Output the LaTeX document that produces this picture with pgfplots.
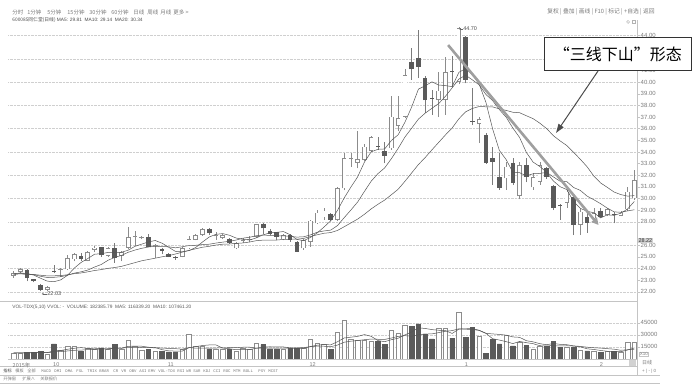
\documentclass[border=0pt]{standalone}
\usepackage{fontspec}
\setmainfont{Liberation Sans}
\setmonofont{Liberation Mono}
\newfontfamily\cjk{Noto Sans CJK SC}
\usepackage{pgfplots}
\usepackage{pgfplotstable}
\pgfplotsset{compat=1.18}
\usetikzlibrary{arrows.meta}
\definecolor{edge}{HTML}{8C8C8C}
\definecolor{dark}{HTML}{5A5A5A}
\definecolor{maline}{HTML}{555555}
\definecolor{txt}{HTML}{7A7A7A}
\definecolor{gridc}{HTML}{CFCFCF}
\definecolor{sep}{HTML}{C4C4C4}
\newcommand{\fs}[1]{\fontsize{#1}{#1}\selectfont}

\pgfplotstableread{
i O H L C V
0 23.36 23.77 23.20 23.62 7500
1 23.70 24.00 23.65 23.96 7500
5 22.15 22.45 22.10 22.38 5400
7 23.90 24.00 23.30 23.96 10400
8 23.93 25.16 23.85 24.87 15800
9 24.79 25.30 24.60 25.24 15800
11 24.67 25.50 24.60 25.39 13800
12 25.60 25.90 25.40 25.79 11700
14 25.07 25.80 25.00 25.73 11700
16 25.07 25.50 24.60 25.42 11700
17 25.79 27.59 25.70 26.68 22900
18 26.70 27.20 25.90 26.75 15800
19 26.62 26.80 26.50 26.68 10800
21 25.96 26.10 24.90 26.02 9600
25 25.00 25.80 24.95 25.73 11700
26 25.73 26.79 25.70 26.53 31300
27 26.45 26.95 26.40 26.87 15800
28 26.87 27.50 26.80 27.36 15800
30 26.75 27.10 26.45 26.85 11700
31 26.60 26.95 26.50 26.87 11700
33 25.73 26.30 25.65 26.16 9600
34 26.35 26.60 26.20 26.45 13800
35 26.50 26.80 26.30 26.55 11700
36 26.73 27.85 26.60 27.82 20000
40 26.50 26.95 26.40 26.87 11700
43 25.73 26.50 25.60 26.45 13800
44 26.30 28.20 25.88 28.10 24200
45 27.88 29.02 27.80 28.79 20000
46 28.39 29.20 28.20 28.96 18000
48 28.16 30.95 28.10 30.88 33000
49 30.88 33.94 30.70 33.46 48000
50 33.40 33.94 32.74 33.50 25000
51 33.08 35.80 32.60 33.37 22900
52 33.31 34.70 33.20 34.45 22900
53 34.11 35.40 34.00 35.26 22100
56 34.32 38.80 34.20 37.03 35400
57 36.23 38.80 35.80 36.89 32100
58 37.03 41.10 36.90 40.61 42500
63 38.46 40.90 37.00 39.26 38400
64 38.46 42.18 37.20 40.84 38400
66 40.03 44.70 39.80 44.62 58400
69 36.40 37.00 34.75 36.80 28400
73 31.74 33.17 30.74 32.74 29200
75 30.22 33.17 29.94 32.88 20400
77 30.97 32.20 30.74 31.83 12500
78 31.45 33.17 31.20 32.88 16300
82 29.65 30.80 29.20 30.59 14200
84 27.74 29.08 26.87 28.88 10400
86 28.31 29.20 28.00 28.74 10000
88 28.60 29.20 28.50 29.08 9200
90 28.54 28.90 28.50 28.79 8300
91 29.08 31.00 28.90 30.59 20900
92 30.03 32.45 29.88 31.60 20900
}\upt

\pgfplotstableread{
i O H L C V
2 23.87 23.95 22.88 23.17 8300
3 23.06 23.10 22.80 22.91 8300
4 22.60 22.65 22.03 22.15 9600
6 23.78 24.30 23.60 23.70 18800
10 25.07 25.30 24.65 24.79 9600
13 25.82 25.85 24.99 25.13 13800
15 25.79 26.20 24.50 24.90 17900
20 26.68 27.00 25.80 25.88 11700
22 25.70 25.75 25.20 25.53 9600
23 25.24 25.30 24.95 25.01 8800
24 25.00 25.10 24.73 24.87 8800
29 27.36 27.45 26.90 27.02 12500
32 26.50 26.60 26.10 26.16 11700
37 27.82 27.90 27.00 27.45 17900
38 27.25 27.35 26.90 26.96 12500
39 27.10 27.15 26.40 26.73 12500
41 26.87 26.95 26.30 26.45 13800
42 26.30 26.35 25.40 25.44 13800
47 28.68 28.80 28.10 28.16 11700
54 34.55 35.26 34.20 34.45 21700
55 34.09 34.88 33.03 33.66 17900
59 41.75 42.90 40.18 41.10 40400
60 42.09 44.47 40.33 41.32 43800
61 40.38 40.50 37.37 38.46 31300
62 38.65 39.30 37.20 38.55 25000
65 40.95 42.24 39.60 40.85 25900
67 43.85 44.00 39.90 40.18 27100
68 36.70 39.47 36.30 36.62 39200
70 35.46 35.60 33.00 33.08 7100
71 33.46 34.45 31.17 33.17 24200
72 31.88 33.90 30.74 30.94 18800
74 33.03 33.46 31.20 31.37 16300
76 32.88 33.46 31.40 31.83 16700
79 32.60 32.74 31.70 31.83 15400
80 31.11 31.20 29.00 29.17 22100
81 29.42 29.50 28.16 29.35 14200
83 30.17 30.30 26.87 27.74 14200
85 28.39 28.88 27.07 27.93 10000
87 28.96 29.20 28.30 28.39 7900
89 28.70 28.88 27.88 28.64 9200
}\dnt

\pgfplotstableread{
i MAa MAb MAc VMAa VMAb
0 23.52 23.51 23.51 7500 7500
1 23.62 23.56 23.53 7500 7500
2 23.55 23.53 23.51 7660 7580
3 23.43 23.47 23.48 7820 7660
4 23.16 23.33 23.42 8240 7870
5 22.91 23.22 23.36 7820 7660
6 22.86 23.24 23.37 10080 8790
7 23.02 23.29 23.39 10500 9080
8 23.41 23.42 23.46 12000 9910
9 24.03 23.60 23.55 13240 10740
10 24.51 23.71 23.61 14080 10950
11 24.85 23.86 23.71 13080 11580
12 25.22 24.12 23.82 13340 11920
13 25.27 24.34 23.90 12940 12470
14 25.37 24.70 24.01 12120 12680
15 25.39 24.95 24.08 13780 13930
16 25.39 25.12 24.18 13360 13220
17 25.57 25.39 24.34 15600 14470
18 25.90 25.58 24.50 16000 14470
19 26.09 25.73 24.66 15820 13970
20 26.28 25.84 24.77 14580 14180
21 26.40 25.90 24.88 14160 13760
22 26.17 25.87 25.00 11500 13550
23 25.82 25.86 25.10 10100 13050
24 25.46 25.77 25.24 9700 12760
25 25.43 25.86 25.40 9700 12140
26 25.53 25.97 25.55 14040 14100
27 25.80 25.99 25.69 15280 13390
28 26.27 26.05 25.82 16680 13390
29 26.70 26.08 25.90 17420 13560
30 26.93 26.18 26.01 17420 13560
31 26.99 26.26 26.08 13500 13770
32 26.85 26.33 26.10 12680 13980
33 26.61 26.44 26.15 11440 14060
34 26.50 26.60 26.19 11700 14560
35 26.44 26.68 26.27 11700 14560
36 26.63 26.81 26.39 13360 13430
37 26.89 26.87 26.43 14600 13640
38 27.05 26.83 26.44 15180 13310
39 27.10 26.80 26.44 14920 13310
40 27.17 26.80 26.49 14920 13310
41 26.89 26.76 26.51 13680 13520
42 26.49 26.69 26.51 12860 13730
43 26.39 26.72 26.58 13120 14150
44 26.66 26.88 26.74 15460 15190
45 27.05 27.11 26.89 17120 16020
46 27.55 27.22 27.02 17960 15820
47 28.09 27.29 27.08 17540 15200
48 28.98 27.68 27.26 21380 17250
49 30.05 28.36 27.58 26140 20800
50 30.99 29.02 27.91 27140 22130
51 31.87 29.71 28.24 28120 23040
52 33.13 30.61 28.65 30360 23950
53 34.01 31.49 29.11 28180 24780
54 34.23 32.14 29.51 22920 24530
55 34.26 32.63 29.87 21500 24320
56 34.99 33.43 30.33 24000 26060
57 35.48 34.31 30.80 25840 28100
58 36.55 35.28 31.48 29920 29050
59 37.86 36.04 32.20 33660 28290
60 39.39 36.82 32.92 38840 30170
61 39.68 37.33 33.52 38020 31010
62 40.02 37.75 34.18 36600 31220
63 39.75 38.15 34.82 35780 32850
64 39.70 38.78 35.46 35380 34520
65 39.61 39.50 36.06 31800 35320
66 40.84 40.26 36.85 37220 37620
67 41.16 40.59 37.45 37640 37120
68 40.64 40.19 37.74 37800 36790
69 39.83 39.76 37.90 35800 35590
70 38.27 38.94 37.88 32040 31920
71 35.98 38.41 37.87 25200 31210
72 34.13 37.64 37.70 23540 30590
73 33.35 36.99 37.57 21540 29670
74 32.26 36.05 37.41 19120 27460
75 32.22 35.24 37.37 21780 26910
76 31.95 33.96 37.11 20280 22740
77 32.13 33.13 36.86 19020 21280
78 32.16 32.75 36.47 16440 18990
79 32.25 32.26 36.01 16260 17690
80 31.51 31.86 35.40 16600 19190
81 31.02 31.49 34.95 16100 18190
82 30.77 31.45 34.55 16440 17730
83 29.75 30.95 33.97 16020 16230
84 29.16 30.70 33.37 15020 15640
85 28.91 30.21 32.73 12600 14600
86 28.78 29.90 31.93 11760 13930
87 28.34 29.56 31.34 10500 13470
88 28.60 29.18 30.96 9500 12760
89 28.56 28.86 30.56 9260 12140
90 28.74 28.82 30.34 8920 10760
91 29.11 28.94 30.21 11100 11430
92 29.75 29.04 30.25 13700 12100
}\matab

\begin{document}
\begin{tikzpicture}[x=1pt,y=1pt]
\path (0,0) rectangle (695,386);

% panel separators
\draw[sep, line width=0.5pt] (0,85) -- (637,85);
\draw[sep, line width=0.5pt] (0,19.3) -- (637,19.3);
\draw[sep, line width=0.5pt] (0,11) -- (660,11);
\draw[sep, line width=0.5pt] (0,3) -- (660,3);
\draw[sep, line width=0.5pt] (637,11) -- (637,366);

% ---------------- price panel ----------------
\begin{axis}[
  at={(8pt,86pt)}, anchor=south west, scale only axis,
  width=629pt, height=278pt,
  xmin=-0.785, xmax=92.4, ymin=21.30, ymax=45.16,
  axis x line=none, axis y line*=right,
  axis line style={draw=sep, line width=0.5pt},
  ytick={22,23,24,25,26,28,29,30,31,32,33,34,35,36,37,38,39,40,41,44},
  /pgf/number format/assume math mode=true,
  yticklabel={\pgfmathprintnumber[fixed,fixed zerofill,precision=2]{\tick}},
  yticklabel style={font=\fs{6}, text=txt, inner sep=1pt},
  tick align=outside, major tick length=2.5pt,
  every tick/.style={draw=sep, line width=0.4pt},
  extra y ticks={22,24,...,44},
  extra y tick labels={},
  extra y tick style={yticklabel={}, grid=major, major grid style={draw=gridc, densely dotted, line width=0.4pt}, major tick length=0pt},
]
% wicks
\addplot[draw=none, mark=none, error bars/.cd, y dir=plus, y explicit, error mark=none,
  error bar style={line width=0.6pt, draw=edge}]
  table[x=i, y=L, y error expr=\thisrow{H}-\thisrow{L}] {\upt};
\addplot[draw=none, mark=none, error bars/.cd, y dir=plus, y explicit, error mark=none,
  error bar style={line width=0.6pt, draw=dark!80}]
  table[x=i, y=L, y error expr=\thisrow{H}-\thisrow{L}] {\dnt};
% up bodies (hollow)
\addplot[draw=none, mark=none, error bars/.cd, y dir=plus, y explicit, error mark=none,
  error bar style={line width=4.6pt, line cap=butt, draw=edge}]
  table[x=i, y=O, y error expr={max(\thisrow{C}-\thisrow{O},0.07)}] {\upt};
\addplot[draw=none, mark=none, error bars/.cd, y dir=plus, y explicit, error mark=none,
  error bar style={line width=3.2pt, line cap=butt, draw=white}]
  table[x=i, y expr=\thisrow{O}+0.06, y error expr={max(\thisrow{C}-\thisrow{O}-0.12,0)}] {\upt};
% down bodies (filled)
\addplot[draw=none, mark=none, error bars/.cd, y dir=plus, y explicit, error mark=none,
  error bar style={line width=4.6pt, line cap=butt, draw=dark}]
  table[x=i, y=C, y error expr={max(\thisrow{O}-\thisrow{C},0.07)}] {\dnt};
% moving averages
\addplot[maline, line width=0.5pt, mark=none] table[x=i, y=MAa] {\matab};
\addplot[maline, line width=0.5pt, mark=none] table[x=i, y=MAb] {\matab};
\addplot[maline, line width=0.5pt, mark=none] table[x=i, y=MAc] {\matab};
% drawn trend line
\addplot[line width=2.6pt, draw=gray!75, mark=none, -{Triangle[length=7pt,width=7pt]}] coordinates {(64.4,43.18) (86.7,27.73)};
\end{axis}

% ---------------- volume panel ----------------
\begin{axis}[
  at={(8pt,27pt)}, anchor=south west, scale only axis,
  width=629pt, height=48pt,
  xmin=-0.785, xmax=92.4, ymin=0, ymax=60000,
  axis x line*=bottom, axis y line*=right,
  axis line style={draw=sep, line width=0.5pt},
  scaled y ticks=false,
  ytick={15000,30000,45000},
  /pgf/number format/assume math mode=true,
  yticklabel={\pgfmathprintnumber[fixed,precision=0,1000 sep={}]{\tick}},
  yticklabel style={font=\fs{6}, text=txt, inner sep=1pt},
  ymajorgrids, major grid style={draw=gridc, densely dotted, line width=0.4pt},
  tick align=outside, major tick length=2.5pt,
  every tick/.style={draw=sep, line width=0.4pt},
  xtick={0,6,23,44,67,87},
  xticklabels={{\cjk 2015年},10,11,12,1,2},
  xticklabel style={font=\fs{5.5}, text=txt, anchor=north west, inner sep=0.5pt, xshift=-1.5pt, yshift=-0.5pt},
  xtick style={draw=none},
]
\addplot[ybar, bar width=4.6pt, bar shift=0pt, fill=white, draw=edge, line width=0.6pt] table[x=i, y=V] {\upt};
\addplot[ybar, bar width=4.6pt, bar shift=0pt, fill=dark, draw=dark, line width=0.6pt] table[x=i, y=V] {\dnt};
\addplot[maline, line width=0.5pt, mark=none] table[x=i, y=VMAa] {\matab};
\addplot[maline, line width=0.5pt, mark=none] table[x=i, y=VMAb] {\matab};
\end{axis}

% ---------------- texts ----------------
\begin{scope}[every node/.style={anchor=west, inner sep=0, text=txt}]
\node[font=\cjk\fs{5.5}] at (12,374) {分时};
\node[font=\cjk\fs{5.5}] at (27,374) {1分钟};
\node[font=\cjk\fs{5.5}] at (47,374) {5分钟};
\node[font=\cjk\fs{5.5}] at (67,374) {15分钟};
\node[font=\cjk\fs{5.5}] at (89,374) {30分钟};
\node[font=\cjk\fs{5.5}] at (111,374) {60分钟};
\node[font=\cjk\fs{5.5}] at (133,374) {日线};
\node[font=\cjk\fs{5.5}] at (147,374) {周线};
\node[font=\cjk\fs{5.5}] at (160,374) {月线};
\node[font=\cjk\fs{5.5}] at (173,374) {更多 >};
\node[font=\fs{4.8}, text=black!70] at (12,366) {{\cjk 600085同仁堂(日线)} MA5: 29.81\ \ MA10: 29.14\ \ MA20: 30.34};
\node[font=\cjk\fs{5.8}] at (547,374) {复权 | 叠加 | 画线 | F10 | 标记 | +自选 | 返回};
\node[font=\fs{4.8}, text=black!65] at (12,79) {VOL-TDX(5,10) VVOL: -\ \ VOLUME: 182385.79\ \ MA5: 116339.20\ \ MA10: 107461.20};
% tabs
\node[font=\cjk\fs{4.2}, text=black!75] at (3,15) {指标};
\node[font=\cjk\fs{4.2}] at (15,15) {模板};
\node[font=\cjk\fs{4.2}] at (27,15) {全部};
\node[font=\ttfamily\fs{4}] at (41,15) {MACD};
\node[font=\ttfamily\fs{4}] at (54,15) {DMI};
\node[font=\ttfamily\fs{4}] at (65,15) {DMA};
\node[font=\ttfamily\fs{4}] at (76,15) {FSL};
\node[font=\ttfamily\fs{4}] at (87,15) {TRIX};
\node[font=\ttfamily\fs{4}] at (99,15) {BRAR};
\node[font=\ttfamily\fs{4}] at (113,15) {CR};
\node[font=\ttfamily\fs{4}] at (121,15) {VR};
\node[font=\ttfamily\fs{4}] at (129,15) {OBV};
\node[font=\ttfamily\fs{4}] at (139,15) {ASI};
\node[font=\ttfamily\fs{4}] at (148,15) {EMV};
\node[font=\ttfamily\fs{4}] at (158,15) {VOL-TDX};
\node[font=\ttfamily\fs{4}] at (177,15) {RSI};
\node[font=\ttfamily\fs{4}] at (186,15) {WR};
\node[font=\ttfamily\fs{4}] at (193,15) {SAR};
\node[font=\ttfamily\fs{4}] at (203,15) {KDJ};
\node[font=\ttfamily\fs{4}] at (213,15) {CCI};
\node[font=\ttfamily\fs{4}] at (223,15) {ROC};
\node[font=\ttfamily\fs{4}] at (233,15) {MTM};
\node[font=\ttfamily\fs{4}] at (243,15) {BOLL};
\node[font=\ttfamily\fs{4}] at (258,15) {PSY};
\node[font=\ttfamily\fs{4}] at (268,15) {MCST};
\node[font=\cjk\fs{4.2}] at (3,7) {开弹窗};
\node[font=\cjk\fs{4.2}] at (22,7) {扩展∧};
\node[font=\cjk\fs{4.2}] at (40,7) {关联报价};
% right side bits
\node[font=\cjk\fs{5}] at (642,22.8) {日线};
\node[font=\fs{4.5}] at (642,15) {+ | - | 0};
\node[font=\fs{4.5}, draw=sep, inner sep=0.6pt] at (639,31.5) {X10};
% extreme labels
\node[font=\fs{5.5}, text=black!70] at (463,357) {44.70};
\node[font=\fs{5.5}, text=black!70] at (47,92) {22.03};
\end{scope}
\draw[black!60, line width=0.4pt, -{Stealth[length=2pt,width=2pt]}] (462.5,357) -- (459,357);
\draw[black!60, line width=0.4pt, -{Stealth[length=2pt,width=2pt]}] (46.5,92) -- (41.5,92);
% current value tag
\node[fill=gray!35, inner sep=0.8pt, anchor=west, font=\fs{5.5}, text=black!80] at (637.5,145.5) {28.22};
% small icons
\draw[gray!60, line width=0.4pt] (628,364) circle (1.5);
\draw[gray!60, line width=0.4pt] (632.5,362.5) rectangle (635.5,365.5);
\fill[gray!35] (629,20) rectangle (636,26);

% annotation
\node[draw=black!80, fill=white, line width=0.8pt, minimum width=147pt, minimum height=32.5pt, anchor=north west, inner sep=0]
  at (544,348.5) {\cjk\fs{16}“三线下山”形态};
\draw[black!70, line width=1pt, -{Triangle[length=9pt,width=6pt]}] (598,315) -- (556,253);
\end{tikzpicture}
\end{document}
